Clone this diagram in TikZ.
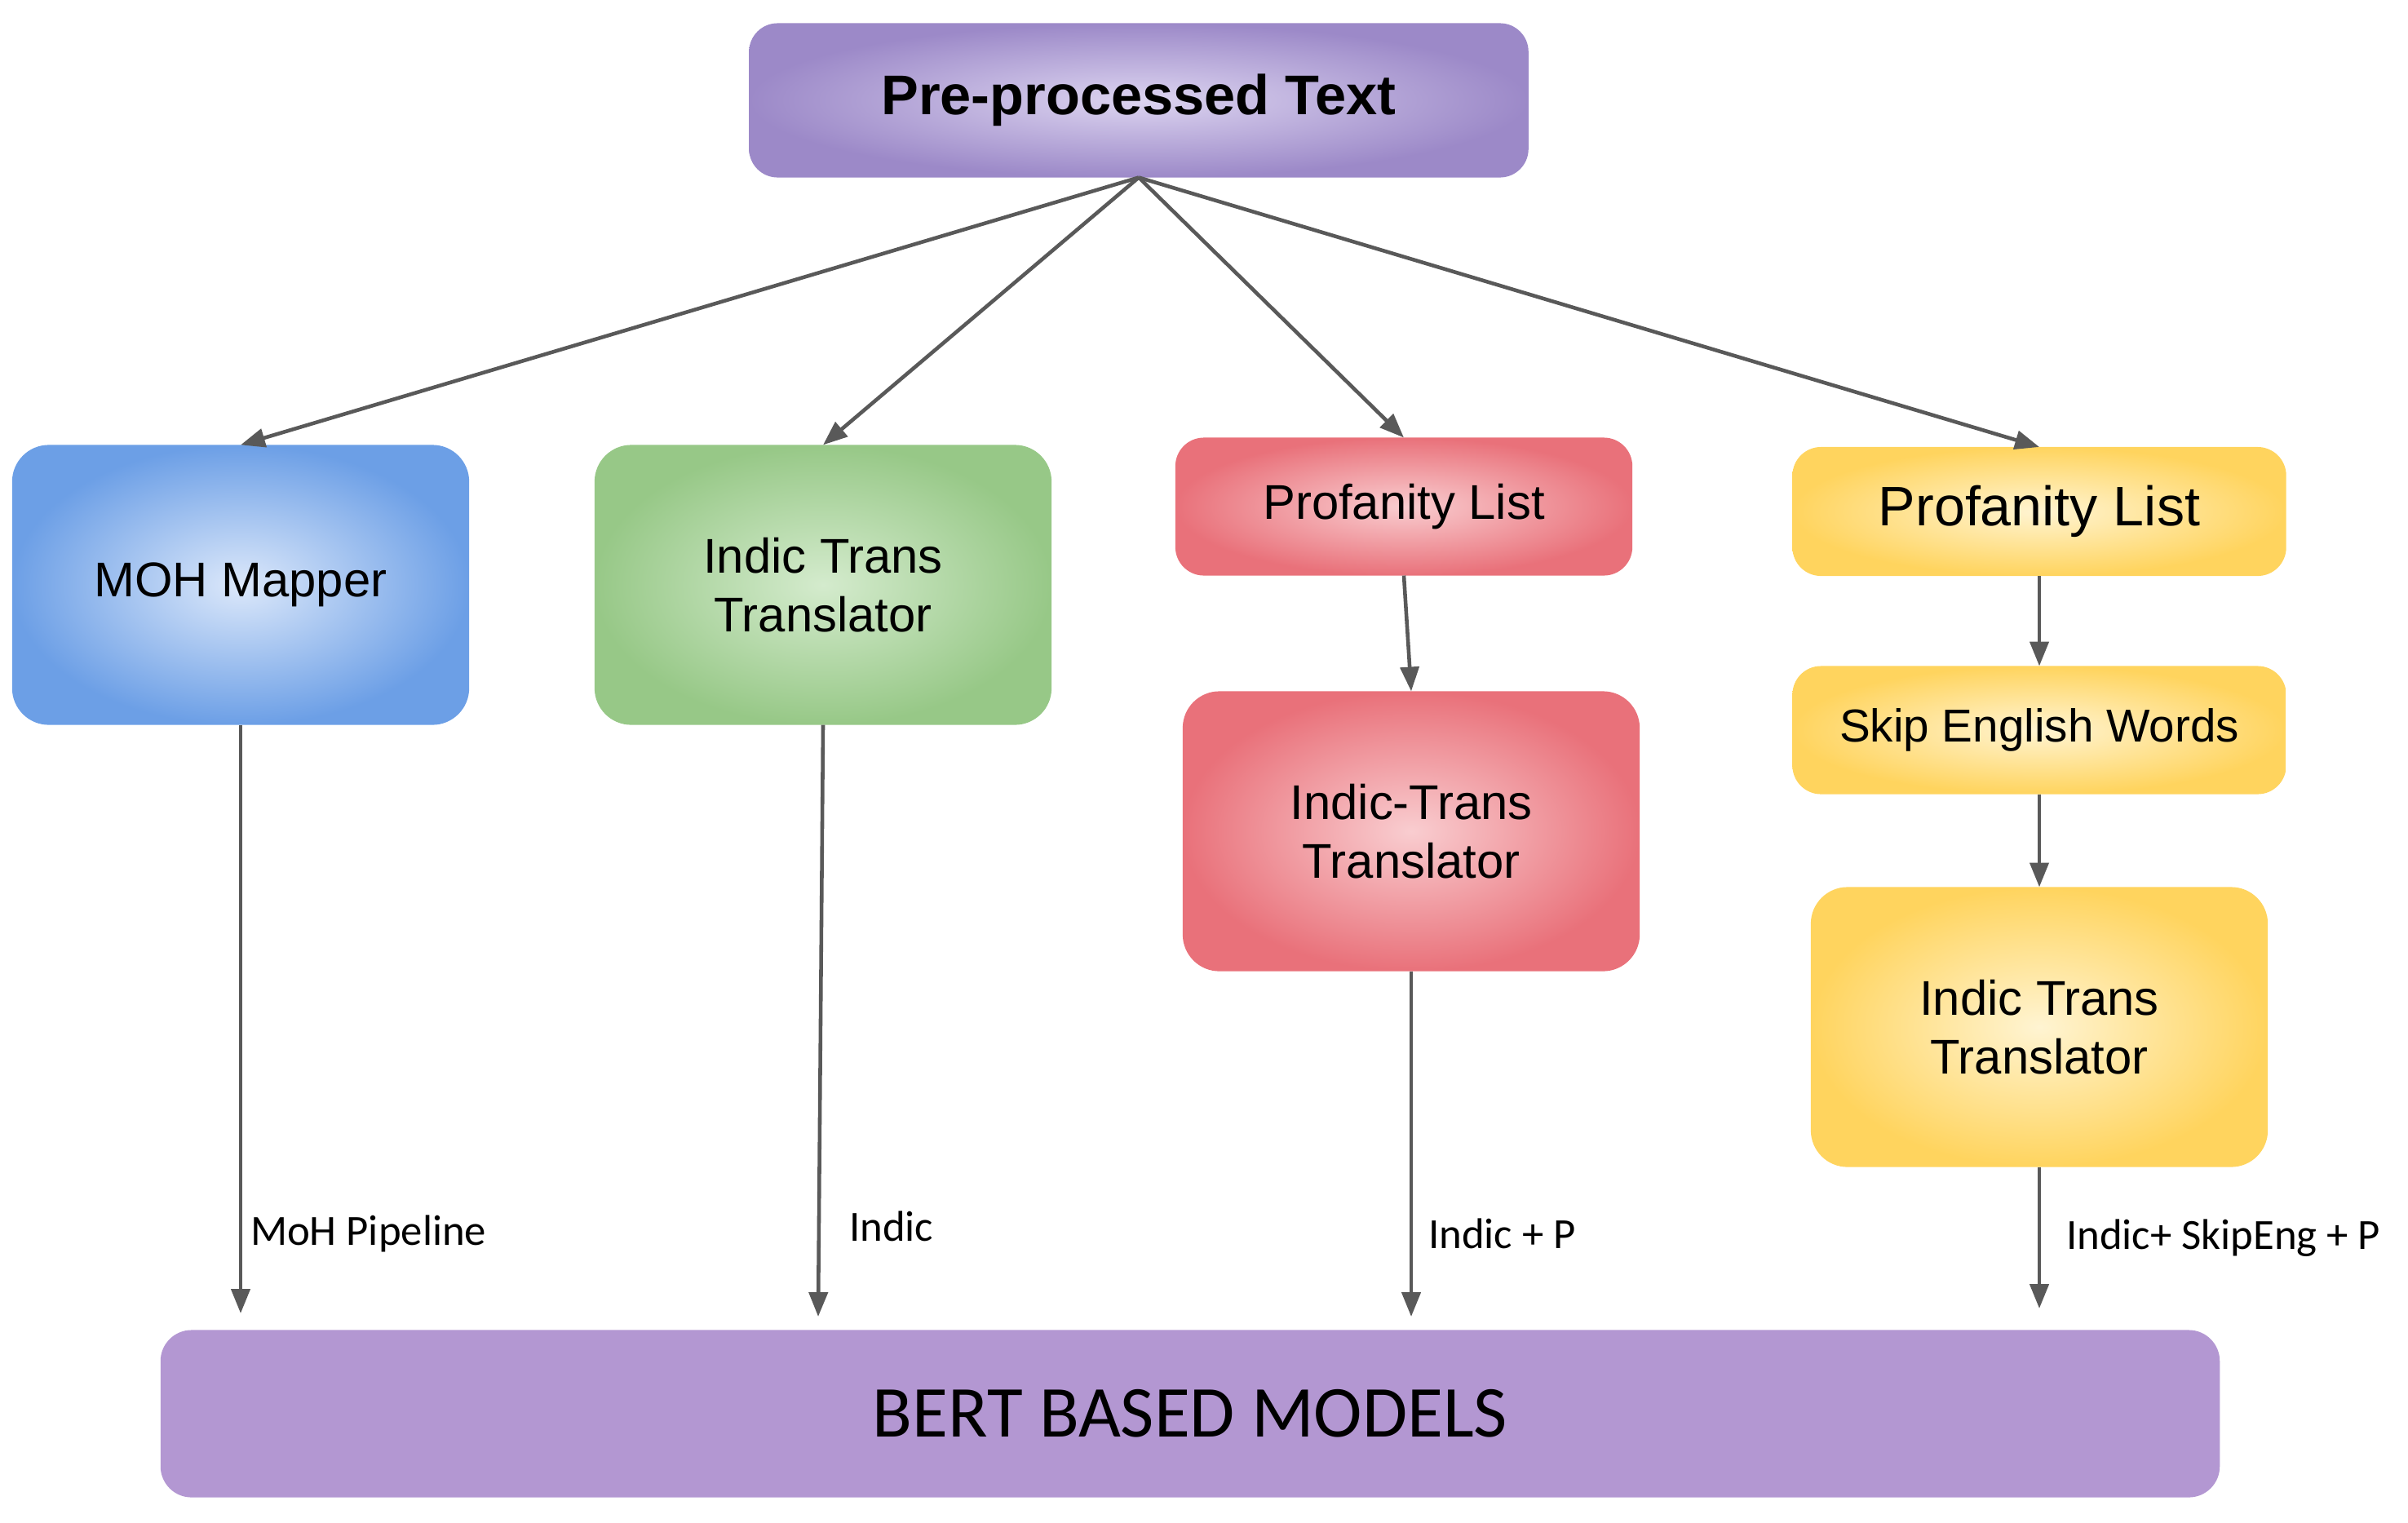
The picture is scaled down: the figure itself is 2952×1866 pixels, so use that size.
\documentclass[tikz,border=0pt]{standalone}
\usepackage{fontspec}
\setmainfont{Liberation Sans}
\newfontfamily\labelfont{Carlito}
\usetikzlibrary{arrows.meta}
\definecolor{purplein}{HTML}{DCD4F0}
\definecolor{purpleout}{HTML}{9C89C8}
\definecolor{bluein}{HTML}{DCE8FA}
\definecolor{blueout}{HTML}{6C9FE6}
\definecolor{greenin}{HTML}{D4EBCD}
\definecolor{greenout}{HTML}{97C887}
\definecolor{redin}{HTML}{F9CDD0}
\definecolor{redout}{HTML}{E9717A}
\definecolor{yellowin}{HTML}{FFF4D2}
\definecolor{yellowout}{HTML}{FFD45E}
\definecolor{bertfill}{HTML}{B397D2}
\definecolor{arrowgray}{HTML}{595959}
\begin{document}
\begin{tikzpicture}[x=0.01cm, y=-0.01cm, every node/.style={inner sep=0pt, outer sep=0pt, align=center}, box/.style={rounded corners=0.45cm, font=\fontsize{17}{20.5}\selectfont, minimum width=5.6cm, minimum height=3.43cm}, flow/.style={-{Triangle[length=8.5pt, width=6.5pt]}, draw=arrowgray, line width=1.3pt}, tag/.style={font=\labelfont\fontsize{15}{18}\selectfont, anchor=west}]
	\useasboundingbox (0, 0) rectangle (2952, 1866);

	% Input
	\node[box, rounded corners=0.35cm, inner color=purplein, outer color=purpleout, minimum width=9.55cm, minimum height=1.89cm, font=\bfseries\fontsize{19.5}{23}\selectfont] (pre) at (1396, 123) {Pre-processed Text};

	% Pipelines
	\node[box, inner color=bluein, outer color=blueout] (moh) at (295, 717) {MOH Mapper};
	\node[box, inner color=greenin, outer color=greenout] (indic) at (1009, 717) {Indic Trans\\Translator};
	\node[box, rounded corners=0.35cm, inner color=redin, outer color=redout, minimum height=1.69cm] (prof) at (1721, 621) {Profanity List};
	\node[box, inner color=redin, outer color=redout] (indicp) at (1730, 1019) {Indic-Trans\\Translator};
	\node[box, rounded corners=0.35cm, inner color=yellowin, outer color=yellowout, minimum width=6.05cm, minimum height=1.58cm, font=\fontsize{19.4}{23}\selectfont] (yprof) at (2500, 627) {Profanity List};
	\node[box, rounded corners=0.35cm, inner color=yellowin, outer color=yellowout, minimum width=6.05cm, minimum height=1.57cm, font=\fontsize{16.1}{19}\selectfont] (skip) at (2500, 895) {Skip English Words};
	\node[box, inner color=yellowin, outer color=yellowout] (indics) at (2500, 1259) {Indic Trans\\Translator};

	% Models
	\node[rounded corners=0.38cm, fill=bertfill, minimum width=25.23cm, minimum height=2.05cm, font=\labelfont\fontsize{25.5}{30}\selectfont] (bert) at (1459, 1733) {BERT BASED MODELS};

	\coordinate (mohend) at (295, 1610);
	\coordinate (indicend) at (1003, 1614);
	\coordinate (indicpend) at (1730, 1614);
	\coordinate (indicsend) at (2500, 1604);

	\draw[flow] (pre.south) -- (moh.north);
	\draw[flow] (pre.south) -- (indic.north);
	\draw[flow] (pre.south) -- (prof.north);
	\draw[flow] (pre.south) -- (yprof.north);
	\draw[flow] (prof.south) -- (indicp.north);
	\draw[flow] (yprof.south) -- (skip.north);
	\draw[flow] (skip.south) -- (indics.north);
	\draw[flow] (moh.south) -- (mohend);
	\draw[flow] (indic.south) -- (indicend);
	\draw[flow] (indicp.south) -- (indicpend);
	\draw[flow] (indics.south) -- (indicsend);

	\node[tag] (mohtag) at (307, 1512) {MoH Pipeline};
	\node[tag] (indictag) at (1041, 1503) {Indic};
	\node[tag] (indicptag) at (1751, 1512) {Indic + P};
	\node[tag] (indicstag) at (2533, 1518) {Indic+ SkipEng + P};
\end{tikzpicture}
\end{document}
